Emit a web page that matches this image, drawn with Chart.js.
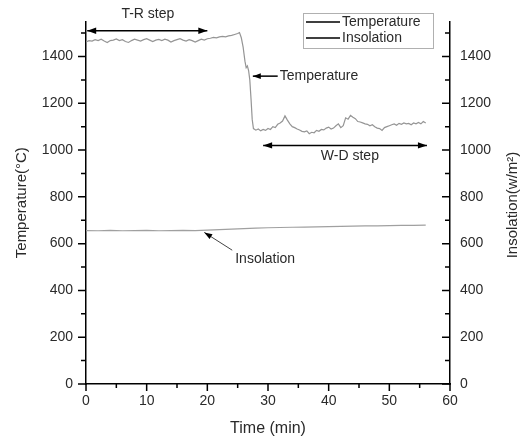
<!DOCTYPE html>
<html>
<head>
<meta charset="utf-8">
<script src="https://cdn.jsdelivr.net/npm/chart.js@4.4.1/dist/chart.umd.min.js"></script>
<style>
html,body{margin:0;padding:0;background:#fff;}
#wrap{width:526px;height:444px;}
</style>
</head>
<body>
<div id="wrap"><canvas id="c" width="526" height="444"></canvas></div>
<script>
// ---- data ----
const tempTime = [0,0.5,1,1.5,2,2.5,3,3.5,4,4.5,5,5.5,6,6.5,7,7.5,8,8.5,9,9.5,10,10.5,11,11.5,12,12.5,13,13.5,14,14.5,15,15.5,16,16.5,17,17.5,18,18.5,19,19.5,20,20.5,21,21.5,22,22.5,23,23.5,24,24.5,25,25.3,25.6,25.9,26.2,26.4,26.6,26.8,27.0,27.2,27.4,27.6,28,28.4,28.8,29.2,29.6,30,30.4,30.8,31.2,31.6,32,32.4,32.8,33.2,33.6,34,34.4,34.8,35.2,35.6,36,36.4,36.8,37.2,37.6,38,38.4,38.8,39.2,39.6,40,40.4,40.8,41.2,41.6,42,42.4,42.8,43.2,43.6,44,44.4,44.8,45.2,45.6,46,46.4,46.8,47.2,47.6,48,48.4,48.8,49.2,49.6,50,50.4,50.8,51.2,51.6,52,52.4,52.8,53.2,53.6,54,54.4,54.8,55.2,55.6,56];
const tempValues = [1462,1468,1466,1472,1468,1474,1466,1460,1468,1470,1475,1468,1472,1464,1460,1468,1474,1470,1466,1472,1476,1470,1464,1470,1473,1468,1474,1470,1462,1468,1472,1476,1470,1466,1472,1468,1462,1468,1474,1470,1476,1478,1482,1480,1484,1486,1484,1488,1490,1494,1498,1502,1480,1440,1380,1352,1360,1340,1300,1220,1130,1092,1085,1090,1082,1088,1084,1092,1088,1100,1096,1110,1116,1124,1146,1128,1112,1100,1096,1090,1086,1080,1078,1082,1070,1076,1074,1084,1080,1088,1086,1094,1098,1090,1094,1104,1112,1096,1104,1138,1132,1148,1140,1134,1122,1120,1116,1112,1110,1104,1108,1100,1094,1092,1084,1096,1100,1104,1108,1112,1106,1114,1110,1116,1112,1114,1108,1116,1112,1118,1112,1122,1116];
const insTime = [0,2,4,6,8,10,12,14,16,18,20,22,24,26,28,30,32,34,36,38,40,42,44,46,48,50,52,54,56];
const insValues = [656,655,657,655,656,657,655,656,657,656,658,660,662,664,666,668,669,670,671,672,673,674,675,676,676,677,678,678,679];
const xMajorTicks = [0,10,20,30,40,50,60];
const xMinorTicks = [5,15,25,35,45,55];
const yMajorTicks = [0,200,400,600,800,1000,1200,1400];
const yMinorTicks = [100,300,500,700,900,1100,1300,1500];
const seriesNames = ['Temperature','Insolation'];

const FONT = "'Liberation Sans', Arial, sans-serif";
const TXT = '#2a2a2a';

function arrowHead(ctx, x1, y1, x2, y2, size){
  const a = Math.atan2(y2-y1, x2-x1);
  ctx.beginPath();
  ctx.moveTo(x2, y2);
  ctx.lineTo(x2 - size*Math.cos(a) + size*0.35*Math.sin(a), y2 - size*Math.sin(a) - size*0.35*Math.cos(a));
  ctx.lineTo(x2 - size*Math.cos(a) - size*0.35*Math.sin(a), y2 - size*Math.sin(a) + size*0.35*Math.cos(a));
  ctx.closePath();
  ctx.fill();
}

const decor = {
  id: 'decor',
  afterDraw(chart){
    const ctx = chart.ctx;
    const xs = chart.scales.x, ys = chart.scales.y;
    const ca = chart.chartArea;
    ctx.save();
    ctx.strokeStyle = '#000';
    ctx.fillStyle = '#000';
    ctx.lineWidth = 1.5;
    // tick marks
    ctx.beginPath();
    yMajorTicks.forEach(v => { const y = ys.getPixelForValue(v); ctx.moveTo(ca.left-8, y); ctx.lineTo(ca.left, y); ctx.moveTo(ca.right, y); ctx.lineTo(ca.right-8, y); });
    yMinorTicks.forEach(v => { const y = ys.getPixelForValue(v); ctx.moveTo(ca.left-5, y); ctx.lineTo(ca.left, y); ctx.moveTo(ca.right, y); ctx.lineTo(ca.right-5, y); });
    xMajorTicks.forEach(v => { const x = xs.getPixelForValue(v); ctx.moveTo(x, ca.bottom); ctx.lineTo(x, ca.bottom+7); });
    xMinorTicks.forEach(v => { const x = xs.getPixelForValue(v); ctx.moveTo(x, ca.bottom); ctx.lineTo(x, ca.bottom+4); });
    ctx.stroke();

    // annotations
    ctx.lineWidth = 1.5;
    ctx.font = '14px ' + FONT;
    ctx.fillStyle = '#000';
    // T-R step
    let x1 = xs.getPixelForValue(0.2), x2 = xs.getPixelForValue(20), y = ys.getPixelForValue(1510);
    ctx.beginPath(); ctx.moveTo(x1, y); ctx.lineTo(x2, y); ctx.stroke();
    arrowHead(ctx, x2, y, x1, y, 9); arrowHead(ctx, x1, y, x2, y, 9);
    ctx.fillStyle = TXT; ctx.textAlign = 'center'; ctx.textBaseline = 'middle';
    ctx.fillText('T-R step', xs.getPixelForValue(10.2), 14);
    // W-D step
    ctx.fillStyle = '#000';
    x1 = xs.getPixelForValue(29.2); x2 = xs.getPixelForValue(56.2); y = ys.getPixelForValue(1020);
    ctx.beginPath(); ctx.moveTo(x1, y); ctx.lineTo(x2, y); ctx.stroke();
    arrowHead(ctx, x2, y, x1, y, 9); arrowHead(ctx, x1, y, x2, y, 9);
    ctx.fillStyle = TXT;
    ctx.fillText('W-D step', xs.getPixelForValue(43.5), ys.getPixelForValue(975));
    // Temperature pointer
    ctx.fillStyle = '#000';
    x1 = xs.getPixelForValue(31.6); x2 = xs.getPixelForValue(27.5); y = ys.getPixelForValue(1316);
    ctx.beginPath(); ctx.moveTo(x1, y); ctx.lineTo(x2, y); ctx.stroke();
    arrowHead(ctx, x1, y, x2, y, 8);
    ctx.fillStyle = TXT; ctx.textAlign = 'left';
    ctx.fillText('Temperature', x1 + 2, y);
    // Insolation pointer
    ctx.fillStyle = '#000'; ctx.lineWidth = 1;
    x1 = xs.getPixelForValue(24.1); let y1 = ys.getPixelForValue(572);
    x2 = xs.getPixelForValue(19.5); let y2 = ys.getPixelForValue(648);
    ctx.strokeStyle = '#444';
    ctx.beginPath(); ctx.moveTo(x1, y1); ctx.lineTo(x2, y2); ctx.stroke();
    arrowHead(ctx, x1, y1, x2, y2, 8);
    ctx.fillStyle = TXT;
    ctx.fillText('Insolation', x1 + 3, ys.getPixelForValue(533));

    // legend
    ctx.strokeStyle = '#b0b0b0'; ctx.lineWidth = 1;
    ctx.strokeRect(303.5, 13.5, 130, 35);
    ctx.strokeStyle = '#000'; ctx.lineWidth = 1.5;
    ctx.beginPath();
    ctx.moveTo(306, 22); ctx.lineTo(340, 22);
    ctx.moveTo(306, 38); ctx.lineTo(340, 38);
    ctx.stroke();
    ctx.fillStyle = TXT; ctx.textAlign = 'left'; ctx.textBaseline = 'middle';
    ctx.fillText(seriesNames[0], 342, 22);
    ctx.fillText(seriesNames[1], 342, 38);

    // right axis title (reads bottom to top)
    ctx.save();
    ctx.font = '15px ' + FONT;
    ctx.translate(513, 205);
    ctx.rotate(-Math.PI/2);
    ctx.textAlign = 'center'; ctx.textBaseline = 'middle';
    ctx.fillText('Insolation(w/m²)', 0, 0);
    ctx.restore();
    ctx.restore();
  }
};

const tempData = tempTime.map((t,i) => ({x:t, y:tempValues[i]}));
const insData = insTime.map((t,i) => ({x:t, y:insValues[i]}));
const plainLabel = v => String(v);

new Chart(document.getElementById('c'), {
  type: 'line',
  data: {
    datasets: [
      {label: seriesNames[0], data: tempData, yAxisID: 'y', borderColor: '#959595', borderWidth: 1.2, pointRadius: 0, tension: 0, fill: false},
      {label: seriesNames[1], data: insData, yAxisID: 'y2', borderColor: '#a0a0a0', borderWidth: 1.2, pointRadius: 0, tension: 0, fill: false}
    ]
  },
  options: {
    responsive: false,
    animation: false,
    events: [],
    layout: {padding: {top: 16, left: 0, right: 0, bottom: 0}},
    plugins: {legend: {display: false}, tooltip: {enabled: false}},
    scales: {
      x: {
        type: 'linear', min: 0, max: 60,
        afterFit: s => { s.height = 60; },
        afterBuildTicks: s => { s.ticks = xMajorTicks.map(v => ({value: v})); },
        grid: {display: true, drawOnChartArea: false, drawTicks: false, color: 'rgba(0,0,0,0)'},
        border: {display: true, color: '#000', width: 1.5},
        ticks: {padding: 9, color: TXT, font: {family: FONT, size: 14}, maxRotation: 0, callback: plainLabel},
        title: {display: true, text: 'Time (min)', color: TXT, font: {family: FONT, size: 16}, padding: {top: 0, bottom: 6}}
      },
      y: {
        type: 'linear', position: 'left', min: 0, max: 1550,
        afterFit: s => { s.width = 86; },
        afterBuildTicks: s => { s.ticks = yMajorTicks.map(v => ({value: v})); },
        grid: {display: true, drawOnChartArea: false, drawTicks: false, color: 'rgba(0,0,0,0)'},
        border: {display: true, color: '#000', width: 1.5},
        ticks: {padding: 13, color: TXT, font: {family: FONT, size: 14}, callback: plainLabel},
        title: {display: true, text: 'Temperature(°C)', color: TXT, font: {family: FONT, size: 15}, padding: {top: 13, bottom: 0}}
      },
      y2: {
        type: 'linear', position: 'right', min: 0, max: 1550,
        afterFit: s => { s.width = 76; },
        afterBuildTicks: s => { s.ticks = yMajorTicks.map(v => ({value: v})); },
        grid: {display: true, drawOnChartArea: false, drawTicks: false, color: 'rgba(0,0,0,0)'},
        border: {display: true, color: '#000', width: 1.5},
        ticks: {padding: 10, color: TXT, font: {family: FONT, size: 14}, callback: plainLabel}
      }
    }
  },
  plugins: [decor]
});
</script>
</body>
</html>
